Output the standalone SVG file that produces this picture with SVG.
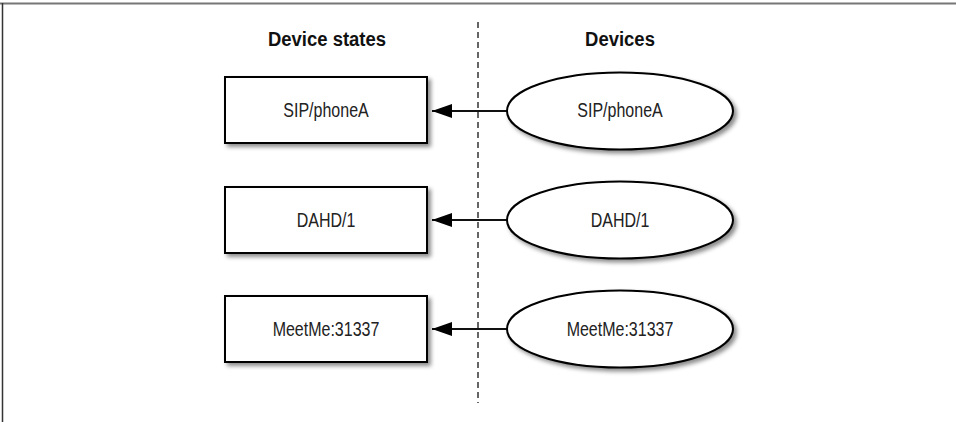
<svg xmlns="http://www.w3.org/2000/svg" width="956" height="422" viewBox="0 0 956 422">
<defs>
<style>
.node{fill:#fff;stroke:#000;stroke-width:2;filter:url(#sh)}
.lbl{font-family:"Liberation Sans",Arial,sans-serif;font-size:20px;fill:#222;text-anchor:middle}
.hdr{font-family:"Liberation Sans",Arial,sans-serif;font-size:21px;font-weight:bold;fill:#111;text-anchor:middle}
.conn{stroke:#111;stroke-width:2;fill:none;marker-end:url(#ah)}
</style>
<filter id="sh" x="-10%" y="-20%" width="130%" height="150%">
<feDropShadow dx="3" dy="3" stdDeviation="2" flood-color="#000" flood-opacity="0.45"/>
</filter>
<marker id="ah" viewBox="0 0 20 14" refX="20" refY="7" markerWidth="20" markerHeight="14" markerUnits="userSpaceOnUse" orient="auto">
<path d="M0,0 L20,7 L0,14 z" fill="#000"/>
</marker>
</defs>
<rect width="956" height="422" fill="#fff"/>
<line x1="0" y1="3.5" x2="956" y2="3.5" stroke="#777" stroke-width="2"/>
<line x1="2.5" y1="3" x2="2.5" y2="422" stroke="#333" stroke-width="1.5"/>
<g id="divider">
<line x1="478" y1="22" x2="478" y2="403" stroke="#333" stroke-width="1.5" stroke-dasharray="6,4"/>
</g>
<g id="headers">
<text class="hdr" transform="translate(327,46) scale(0.88,1)">Device states</text>
<text class="hdr" transform="translate(620,46) scale(0.88,1)">Devices</text>
</g>
<g id="connectors">
<line class="conn" x1="507" y1="111" x2="432" y2="111"/>
<line class="conn" x1="507" y1="220" x2="432" y2="220"/>
<line class="conn" x1="507" y1="329" x2="432" y2="329"/>
</g>
<g id="state-sip">
<rect class="node" x="225" y="77" width="202" height="66"/>
<text class="lbl" transform="translate(326,117) scale(0.8,1)">SIP/phoneA</text>
</g>
<g id="state-dahd">
<rect class="node" x="225" y="187" width="202" height="66"/>
<text class="lbl" transform="translate(326,227) scale(0.8,1)">DAHD/1</text>
</g>
<g id="state-meetme">
<rect class="node" x="225" y="296" width="202" height="66"/>
<text class="lbl" transform="translate(326,336) scale(0.8,1)">MeetMe:31337</text>
</g>
<g id="device-sip">
<ellipse class="node" cx="620" cy="111" rx="113" ry="38.5"/>
<text class="lbl" transform="translate(620,117) scale(0.8,1)">SIP/phoneA</text>
</g>
<g id="device-dahd">
<ellipse class="node" cx="620" cy="220" rx="113" ry="38.5"/>
<text class="lbl" transform="translate(620,227) scale(0.8,1)">DAHD/1</text>
</g>
<g id="device-meetme">
<ellipse class="node" cx="620" cy="329" rx="113" ry="38.5"/>
<text class="lbl" transform="translate(620,336) scale(0.8,1)">MeetMe:31337</text>
</g>
</svg>
